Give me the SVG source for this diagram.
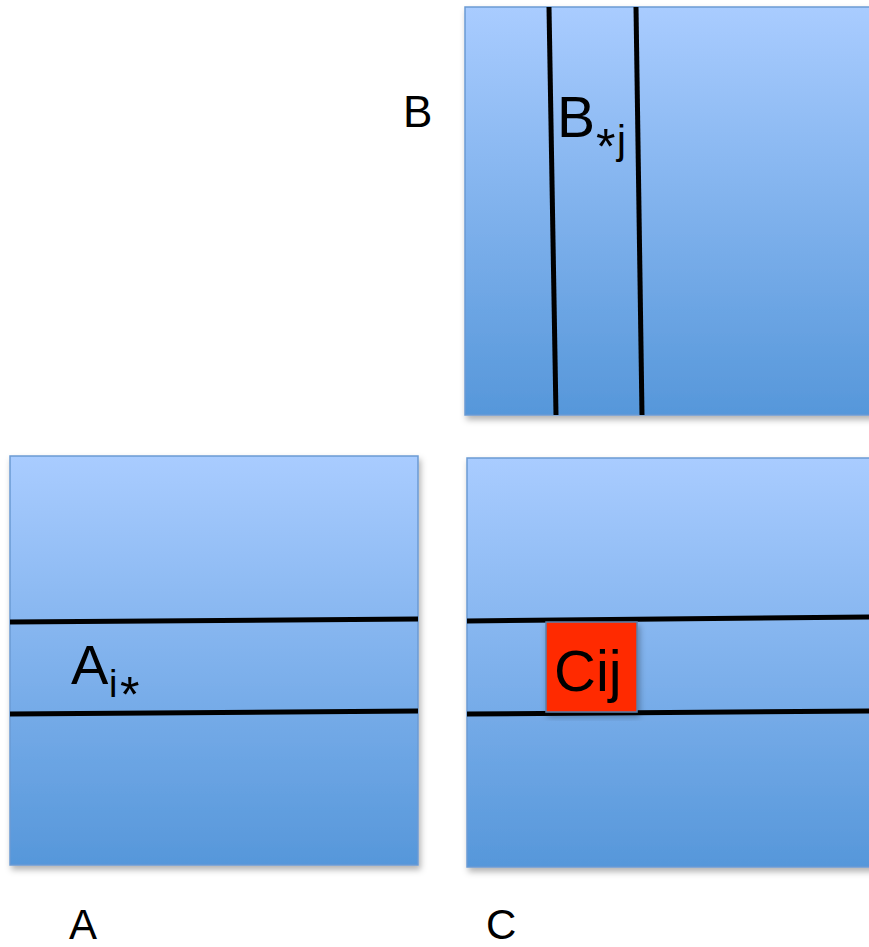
<svg xmlns="http://www.w3.org/2000/svg" width="869" height="947" viewBox="0 0 869 947">
<style>
.mat{fill:url(#blueGrad);stroke:#6b9ad3;stroke-width:1.5;filter:url(#shadow)}
.cut{stroke:#000;stroke-width:5;fill:none}
.lbl{font-family:"Liberation Sans",Arial,sans-serif;fill:#000}
</style>
<defs>
<linearGradient id="blueGrad" x1="0" y1="0" x2="0" y2="1">
<stop offset="0" stop-color="#a9ccff"/>
<stop offset="1" stop-color="#5697da"/>
</linearGradient>
<filter id="shadow" x="-5%" y="-5%" width="115%" height="115%">
<feDropShadow dx="2" dy="4" stdDeviation="3" flood-color="#000" flood-opacity="0.3"/>
</filter>
</defs>
<rect width="869" height="947" fill="#fff"/>
<g id="matrixB">
<rect class="mat" x="465" y="7" width="430" height="408"/>
<text class="lbl" x="403" y="127" font-size="44">B</text>
</g>
<g id="matrixA">
<rect class="mat" x="10" y="456" width="408" height="409"/>
<text class="lbl" x="69" y="939" font-size="42">A</text>
</g>
<g id="matrixC">
<rect class="mat" x="467" y="458" width="430" height="409"/>
<text class="lbl" x="486" y="939" font-size="42">C</text>
</g>
<g id="connectors">
<line class="cut" x1="549" y1="7" x2="556" y2="415"/>
<line class="cut" x1="636" y1="7" x2="642" y2="415"/>
<line class="cut" x1="10" y1="622" x2="418" y2="619"/>
<line class="cut" x1="10" y1="714" x2="418" y2="711"/>
<line class="cut" x1="467" y1="621" x2="869" y2="617"/>
<line class="cut" x1="467" y1="714" x2="869" y2="711"/>
</g>
<g id="rowA">
<text class="lbl" x="71" y="684" font-size="56">A</text>
<text class="lbl" x="109" y="697" font-size="38">i</text>
<text class="lbl" x="120" y="712" font-size="50">*</text>
</g>
<g id="colB">
<text class="lbl" x="557" y="137" font-size="57">B</text>
<text class="lbl" x="596" y="164" font-size="50">*</text>
<text class="lbl" x="617" y="154" font-size="40">j</text>
</g>
<g id="cellC">
<rect x="546" y="622" width="91" height="90" fill="#ff2a00" stroke="#5a80ab" stroke-width="1.5" filter="url(#shadow)"/>
<text class="lbl" x="554" y="691" font-size="58">Cij</text>
</g>
</svg>
